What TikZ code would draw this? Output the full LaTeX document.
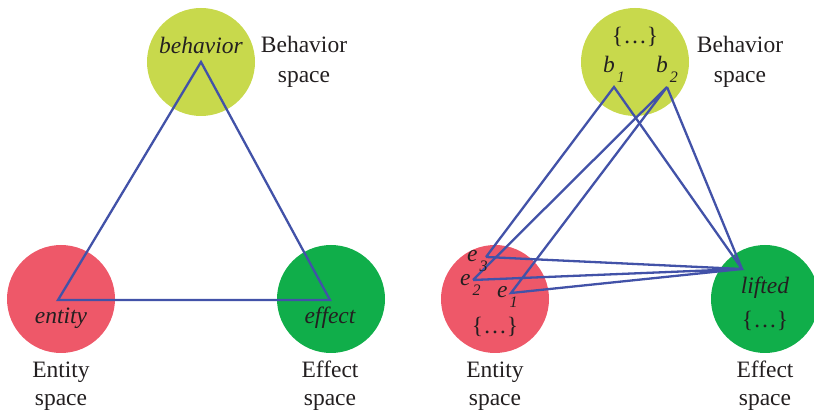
\documentclass[tikz,border=0pt]{standalone}
\usepackage{fontspec}
\setmainfont{Liberation Serif}
\definecolor{cbeh}{RGB}{200,217,76}
\definecolor{cent}{RGB}{238,88,105}
\definecolor{ceff}{RGB}{16,174,74}
\definecolor{cline}{RGB}{66,82,168}
\definecolor{ctext}{RGB}{35,31,32}
\newcommand{\bigtxt}{\fontsize{23.5}{27}\selectfont}
\newcommand{\subtxt}{\fontsize{16}{16}\selectfont}
\newcommand{\sublab}[2]{\itshape #1\kern2pt\raisebox{-10pt}{\subtxt #2}}
\tikzset{
  space/.style={circle, minimum size=108pt, inner sep=0pt, draw=none},
  link/.style={draw=cline, line width=2.3pt, line join=miter},
  lbl/.style={text=ctext, font=\bigtxt, inner sep=0pt},
  spcap/.style={text=ctext, font=\bigtxt, align=center, inner sep=0pt, text depth=0pt}
}
\begin{document}
\begin{tikzpicture}[x=1pt,y=-1pt]
\useasboundingbox (0,0) rectangle (814,411);
% ---------- left panel ----------
\node[space, fill=cbeh] (B) at (201,62) {};
\node[space, fill=cent] (N) at (61,299) {};
\node[space, fill=ceff] (F) at (331,299) {};
\coordinate (tb) at (201,62);
\coordinate (tn) at (58,300);
\coordinate (tf) at (330,300);
\draw[link] (tb) -- (tn) -- (tf) -- cycle;
\node[lbl, font=\bigtxt\itshape, anchor=base] (lb) at (201,54) {behavior};
\node[lbl, font=\bigtxt\itshape, anchor=base] (ln) at (61,324) {entity};
\node[lbl, font=\bigtxt\itshape, anchor=base] (lf) at (330,324) {effect};
\node[spcap, anchor=base] (cb1) at (304,53) {Behavior};
\node[spcap, anchor=base] (cb2) at (304,83) {space};
\node[spcap, anchor=base] (cn1) at (61,378) {Entity};
\node[spcap, anchor=base] (cn2) at (61,406) {space};
\node[spcap, anchor=base] (cf1) at (330,378) {Effect};
\node[spcap, anchor=base] (cf2) at (330,406) {space};
% ---------- right panel ----------
\node[space, fill=cbeh] (B2) at (635,62) {};
\node[space, fill=cent] (N2) at (495,299) {};
\node[space, fill=ceff] (F2) at (765,299) {};
\coordinate (b1) at (614,87);
\coordinate (b2) at (667,87);
\coordinate (e3) at (486,257);
\coordinate (e2) at (473,280);
\coordinate (e1) at (511,293);
\coordinate (lf2) at (742,269);
\draw[link] (e3) -- (b1) -- (lf2) -- (e3);
\draw[link] (e2) -- (b2) -- (e1) -- (lf2) -- (e2);
\draw[link] (b2) -- (lf2);
\node[lbl, anchor=base] (db) at (635,44) {\{…\}};
\node[lbl, anchor=base west] (lb1) at (603,73) {\sublab{b}{1}};
\node[lbl, anchor=base west] (lb2) at (656,73) {\sublab{b}{2}};
\node[lbl, anchor=base west] (le3) at (467,262) {\sublab{e}{3}};
\node[lbl, anchor=base west] (le2) at (460,286) {\sublab{e}{2}};
\node[lbl, anchor=base west] (le1) at (497,298) {\sublab{e}{1}};
\node[lbl, anchor=base] (dn) at (495,334) {\{…\}};
\node[lbl, font=\bigtxt\itshape, anchor=base] (llift) at (765,294) {lifted};
\node[lbl, anchor=base] (df) at (765,328) {\{…\}};
\node[spcap, anchor=base] (cb3) at (740,53) {Behavior};
\node[spcap, anchor=base] (cb4) at (740,83) {space};
\node[spcap, anchor=base] (cn3) at (495,378) {Entity};
\node[spcap, anchor=base] (cn4) at (495,406) {space};
\node[spcap, anchor=base] (cf3) at (765,378) {Effect};
\node[spcap, anchor=base] (cf4) at (765,406) {space};
\end{tikzpicture}
\end{document}
